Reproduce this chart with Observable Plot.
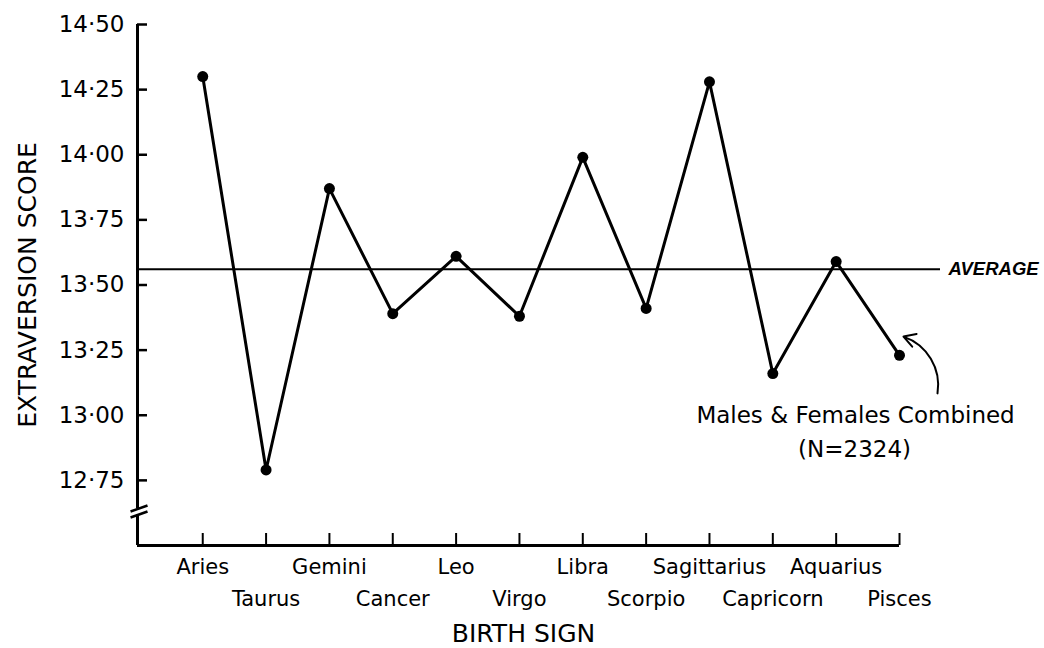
<!DOCTYPE html>
<html>
<head>
<meta charset="utf-8">
<script src="https://cdn.jsdelivr.net/npm/d3@7"></script>
<script src="https://cdn.jsdelivr.net/npm/@observablehq/plot@0.6"></script>
<style>
  html, body { margin: 0; padding: 0; background: white; }
</style>
</head>
<body>
<div id="chart"></div>
<script>
const signs = ["Aries","Taurus","Gemini","Cancer","Leo","Virgo","Libra","Scorpio","Sagittarius","Capricorn","Aquarius","Pisces"];
const scores = [14.30, 12.79, 13.87, 13.39, 13.61, 13.38, 13.99, 13.41, 14.28, 13.16, 13.59, 13.23];
const average = 13.56;
const yTicks = [12.75, 13.00, 13.25, 13.50, 13.75, 14.00, 14.25, 14.50];
const annotationLines = ["Males & Females Combined", "(N=2324)"];

const data = signs.map((s, i) => ({sign: s, i, score: scores[i]}));

const W = 1044, H = 648, mL = 137, mR = 145, mT = 24, mB = 103;
const xMin = -1.03, xMax = 11;
const yMin = 12.5, yMax = 14.5;
const pxPerX = (W - mL - mR) / (xMax - xMin);
const fmt = v => d3.format(".2f")(v).replace(".", "\u00B7");
const FONT = "DejaVu Sans";

const chart = Plot.plot({
  width: W,
  height: H,
  marginTop: mT,
  marginBottom: mB,
  marginLeft: mL,
  marginRight: mR,
  style: {fontFamily: FONT, background: "white", color: "black", overflow: "visible"},
  x: {type: "linear", domain: [xMin, xMax]},
  y: {type: "linear", domain: [yMin, yMax]},
  marks: [
    // average line
    Plot.ruleY([average], {stroke: "black", strokeWidth: 2, insetRight: -41}),
    // y axis line with break
    Plot.ruleX([{a: yMax, b: 12.642}, {a: 12.619, b: yMin}], {x: () => xMin, y1: "a", y2: "b", stroke: "black", strokeWidth: 3}),
    Plot.link([{x1: -1.14, y1: 12.6305, x2: -0.872, y2: 12.6536}, {x1: -1.14, y1: 12.6075, x2: -0.872, y2: 12.6305}],
      {x1: "x1", y1: "y1", x2: "x2", y2: "y2", stroke: "black", strokeWidth: 2.5}),
    // x axis line
    Plot.ruleY([yMin], {stroke: "black", strokeWidth: 3}),
    // y ticks (inward)
    Plot.ruleY(yTicks, {x1: xMin, x2: xMin + 10 / pxPerX, stroke: "black", strokeWidth: 2.5}),
    Plot.axisY({ticks: yTicks, tickSize: 0, tickPadding: 13, tickFormat: fmt, label: null, fontSize: 23, fill: "black"}),
    // x ticks (inward)
    Plot.axisX({ticks: data.map(d => d.i), tickSize: 12, dy: -12, tickFormat: () => "", label: null, strokeWidth: 2}),
    // x labels, two staggered rows
    Plot.text(data, {filter: d => d.i % 2 === 0, x: "i", text: "sign", frameAnchor: "bottom", dy: 28, lineAnchor: "bottom", fontSize: 21, fill: "black"}),
    Plot.text(data, {filter: d => d.i % 2 === 1, x: "i", text: "sign", frameAnchor: "bottom", dy: 60, lineAnchor: "bottom", fontSize: 21, fill: "black"}),
    // data
    Plot.line(data, {x: "i", y: "score", stroke: "black", strokeWidth: 3}),
    Plot.dot(data, {x: "i", y: "score", r: 5.5, fill: "black"}),
    // axis titles
    Plot.text(["EXTRAVERSION SCORE"], {text: d => d, frameAnchor: "left", textAnchor: "middle", rotate: -90, dx: -110, fontSize: 25, fill: "black"}),
    Plot.text(["BIRTH SIGN"], {text: d => d, frameAnchor: "bottom", dx: 5, dy: 96, lineAnchor: "bottom", fontSize: 25, fill: "black"}),
    // average label
    Plot.text(["AVERAGE"], {text: d => d, y: () => average, frameAnchor: "right", dx: 49, textAnchor: "start", fontFamily: "Liberation Sans", fontStyle: "italic", fontWeight: "bold", fontSize: 18.5, fill: "black"}),
    // annotation
    Plot.text([annotationLines[0]], {text: d => d, x: () => 10.306, y: () => 12.972, lineAnchor: "bottom", fontSize: 23, fill: "black"}),
    Plot.text([annotationLines[1]], {text: d => d, x: () => 10.29, y: () => 12.838, lineAnchor: "bottom", fontSize: 23, fill: "black"}),
    Plot.arrow([{x1: 11.60, y1: 13.084, x2: 11.063, y2: 13.302}], {x1: "x1", y1: "y1", x2: "x2", y2: "y2", bend: -40, stroke: "black", strokeWidth: 2, headLength: 10})
  ]
});
document.getElementById("chart").appendChild(chart);
</script>
</body>
</html>
